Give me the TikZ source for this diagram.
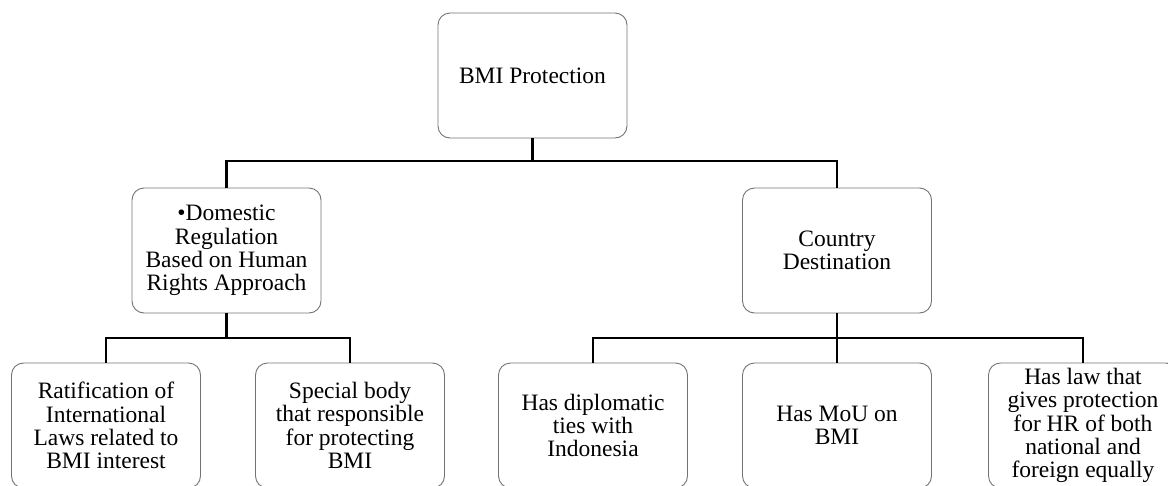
\documentclass[tikz,border=0pt]{standalone}
\usepackage{fontspec}
\setmainfont{Liberation Serif}
\begin{document}
\begin{tikzpicture}[x=1pt,y=-1pt,
  box/.style={draw=black!55, line width=0.9pt, rounded corners=12pt, rectangle,
    minimum width=189pt, minimum height=125pt, inner sep=0pt, align=center,
    font=\fontsize{23.5}{23.3}\selectfont},
  conn/.style={line width=2.8pt, line join=miter}]
\useasboundingbox (0,0) rectangle (1168,485);
\node[box] (top) at (532.5,75.5) {BMI Protection};
\node[box] (ml) at (226.5,250.5) {•Domestic\\Regulation\\Based on Human\\Rights Approach};
\node[box] (mr) at (837,250.5) {Country\\Destination};
\node[box] (b1) at (106,425.5) {Ratification of\\International\\Laws related to\\BMI interest};
\node[box] (b2) at (350,425.5) {Special body\\that responsible\\for protecting\\BMI};
\node[box] (b3) at (593,425.5) {Has diplomatic\\ties with\\Indonesia};
\node[box] (b4) at (837,425.5) {Has MoU on\\BMI};
\node[box] (b5) at (1083,425.5) {Has law that\\gives protection\\for HR of both\\national and\\foreign equally};
\coordinate (j1) at (532.5,161);
\coordinate (jl) at (226.5,338);
\coordinate (jr) at (837,338);
\draw[conn] (top) -- (j1);
\draw[conn] (ml.north) |- (j1) -| (mr.north);
\draw[conn] (ml) -- (jl);
\draw[conn] (b1.north) |- (jl) -| (b2.north);
\draw[conn] (mr) -- (jr);
\draw[conn] (b3.north) |- (jr) -| (b5.north);
\draw[conn] (jr) -- (b4);
\end{tikzpicture}
\end{document}
